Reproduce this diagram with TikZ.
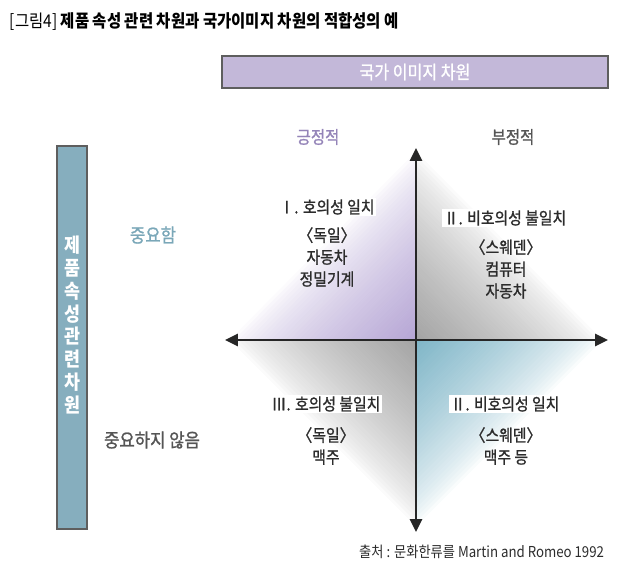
\documentclass[tikz,border=0pt]{standalone}
\usepackage{fontspec}
\setmainfont{Noto Sans CJK KR}[FakeStretch=0.88]
\newfontfamily\medfont{Noto Sans CJK KR}[FakeStretch=0.88,FakeBold=1.1]
\usepackage{tikz}
\usetikzlibrary{calc,arrows.meta,positioning}
\definecolor{lavc}{HTML}{C3B8D9}
\definecolor{tealc}{HTML}{86AEBE}
\definecolor{framec}{HTML}{5E5E5E}
\definecolor{posc}{HTML}{9484B8}
\definecolor{impc}{HTML}{7AA7B8}
\definecolor{txtc}{HTML}{2C2C2C}
\definecolor{sidec}{HTML}{555555}
\definecolor{purpc}{HTML}{B6A6D5}
\definecolor{grayc}{HTML}{A4A4A4}
\definecolor{bluec}{HTML}{80B6C8}
\tikzset{
  ax/.style={{Triangle[length=3.2mm,width=3mm]}-{Triangle[length=3.2mm,width=3mm]},line width=1.8pt,black!85},
  dimbox/.style={draw=framec,line width=1.2pt,inner sep=0pt},
  qhead/.style={fill=white,inner sep=1pt,text=txtc,font=\medfont\fontsize{12}{14}\selectfont},
  qitem/.style={align=center,text=txtc,font=\medfont\fontsize{12}{15.6}\selectfont},
  side/.style={font=\medfont\fontsize{13.5}{15}\selectfont},
  strip/.style={fill=#1,draw=#1,line width=0.4pt}
}
\begin{document}
\begin{tikzpicture}[x=0.025cm,y=-0.025cm]
\useasboundingbox (0,0) rectangle (640,574);
\node[anchor=west,text=black,font=\fontsize{12.5}{15}\selectfont] (title) at (5,22) {[그림4] \textbf{제품 속성 관련 차원과 국가이미지 차원의 적합성의 예}};
\node[dimbox,fill=lavc,minimum width=9.65cm,minimum height=0.8cm] (natbox) at (415,72) {};
\node[text=white,font=\medfont\fontsize{13}{15}\selectfont] (nattxt) at (415,72) {국가 이미지 차원};
\node[dimbox,fill=tealc,minimum width=0.75cm,minimum height=9.575cm] (probox) at (72,337.5) {};
\node[align=center,text=white,font=\fontsize{14}{16.3}\bfseries] (protxt) at (72,325) {제\\품\\속\\성\\관\\련\\차\\원};
\coordinate (O) at (416,340);
\coordinate (W) at (225,340);
\coordinate (E) at (608,340);
\coordinate (N) at (416,148);
\coordinate (S) at (416,532);
\foreach \ax/\ay/\bx/\by/\col in {230/340/416/152/purpc,602/340/416/152/grayc,230/340/416/526/grayc,602/340/416/526/bluec}{
  \coordinate (A) at (\ax,\ay);
  \coordinate (B) at (\bx,\by);
  \foreach \i in {0,...,39}{
    \pgfmathsetmacro\ta{\i/40}
    \pgfmathsetmacro\tb{(\i+1)/40}
    \pgfmathsetmacro\pc{100*((\i+0.5)/40)^0.7}
    \path[strip=\col!\pc!white] ($(A)!\ta!(O)$) -- ($(B)!\ta!(O)$) -- ($(B)!\tb!(O)$) -- ($(A)!\tb!(O)$) -- cycle;
  }
}
\draw[ax] (W) -- (E);
\draw[ax] (N) -- (S);
\node[side,text=posc,font=\medfont\fontsize{12.5}{15}\selectfont] (pos) at (318,137) {긍정적};
\node[side,text=sidec,font=\medfont\fontsize{12.5}{15}\selectfont] (neg) at (513,137) {부정적};
\node[side,text=impc] (imp) at (153,235) {중요함};
\node[side,text=sidec] (nimp) at (152,440) {중요하지 않음};
\node[qhead] (q1) at (327,207) {Ⅰ. 호의성 일치};
\node[qitem] (q1i) at (327,257) {〈독일〉\\자동차\\정밀기계};
\node[qhead] (q2) at (505,218) {Ⅱ. 비호의성 불일치};
\node[qitem] (q2i) at (506,269) {〈스웨덴〉\\컴퓨터\\자동차};
\node[qhead] (q3) at (326,404) {Ⅲ. 호의성 불일치};
\node[qitem] (q3i) at (326,446) {〈독일〉\\맥주};
\node[qhead] (q4) at (505,404) {Ⅱ. 비호의성 일치};
\node[qitem] (q4i) at (506,446) {〈스웨덴〉\\맥주 등};
\node[anchor=east,text=txtc,font=\fontsize{10.7}{12}\selectfont] (src) at (609,552) {출처 : 문화한류를 Martin and Romeo 1992};
\end{tikzpicture}
\end{document}
